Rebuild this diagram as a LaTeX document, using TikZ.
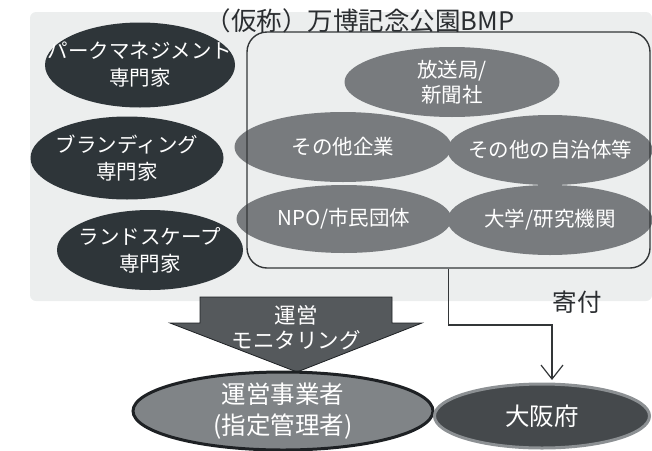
\documentclass[tikz,border=0pt]{standalone}
\usepackage{fontspec}
\setmainfont{Noto Sans CJK JP}
\usetikzlibrary{shapes.geometric,arrows.meta}
\definecolor{panelc}{HTML}{ECEEEE}
\definecolor{darkc}{HTML}{2E3539}
\definecolor{grayc}{HTML}{787B7E}
\definecolor{linec}{HTML}{333638}
\definecolor{arrowc}{HTML}{55595C}
\definecolor{opfill}{HTML}{808487}
\definecolor{opline}{HTML}{1E2124}
\definecolor{osfill}{HTML}{45494C}
\definecolor{osline}{HTML}{8C9093}
\definecolor{txtc}{HTML}{2A2D30}
\begin{document}
\begin{tikzpicture}[x=1pt,y=-1pt,
  ell/.style={ellipse, inner sep=0pt},
  wtxt/.style={text=white, align=center, inner sep=0pt, font=\fontsize{20.5}{27}\selectfont},
  gtxt/.style={text=white, align=center, inner sep=0pt, font=\fontsize{20.5}{25}\selectfont},
  btxt/.style={text=white, align=center, inner sep=0pt, font=\fontsize{24.5}{31}\selectfont}]
\useasboundingbox (0,0) rectangle (652,450);
% background panel
\fill[panelc, rounded corners=6pt] (30,12) -- (30,301) -- (652,301) -- (652,12) -- cycle;
% dark expert ellipses
\node[ell, fill=darkc, minimum width=190pt, minimum height=85pt] (pm) at (140,65) {};
\node[wtxt] (pmt) at (pm) {パークマネジメント\\専門家};
\node[ell, fill=darkc, minimum width=193pt, minimum height=83pt] (br) at (127,158) {};
\node[wtxt] (brt) at (br) {ブランディング\\専門家};
\node[ell, fill=darkc, minimum width=186pt, minimum height=80pt] (ls) at (150,250) {};
\node[wtxt] (lst) at (ls) {ランドスケープ\\専門家};
% gray member ellipses
\node[ell, fill=grayc, minimum width=215pt, minimum height=70pt] (hs) at (452,82) {};
\node[gtxt] (hst) at (hs) {放送局/\\新聞社};
\node[ell, fill=grayc, minimum width=217pt, minimum height=70pt] (ki) at (343,147) {};
\node[gtxt] (kit) at (ki) {その他企業};
\node[ell, fill=grayc, minimum width=205pt, minimum height=70pt] (jt) at (550,150) {};
\node[gtxt] (jtt) at (jt) {その他の自治体等};
\node[ell, fill=grayc, minimum width=215pt, minimum height=68pt] (npo) at (344,219) {};
\node[gtxt] (npot) at (npo) {NPO/市民団体};
\node[ell, fill=grayc, minimum width=205pt, minimum height=70pt] (dg) at (550,220) {};
\node[gtxt] (dgt) at (dg) {大学/研究機関};
% BMP frame
\node[draw=linec, line width=1.4pt, rounded corners=20pt, minimum width=403pt, minimum height=236pt, inner sep=0pt] (bmp) at (448.5,150) {};
\node[text=txtc, inner sep=0pt, font=\fontsize{25.5}{26}\selectfont] (title) at (360,21) {（仮称）万博記念公園BMP};
% block arrow
\fill[arrowc, draw=opline, line width=0.8pt] (200,297) -- (392,297) -- (392,323) -- (422,323) -- (297,372) -- (170,323) -- (200,323) -- cycle;
\node[text=white, align=center, inner sep=0pt, font=\fontsize{21.5}{25}\selectfont] (mon) at (296,328) {運営\\モニタリング};
% bottom ellipses
\node[ell, fill=opfill, draw=opline, line width=3pt, minimum width=300pt, minimum height=78pt] (op) at (283,411) {};
\node[btxt] (opt) at (op) {運営事業者\\(指定管理者)};
\node[ell, fill=osfill, draw=osline, line width=3pt, minimum width=215pt, minimum height=64pt] (os) at (542,416) {};
\node[btxt] (ost) at (os) {大阪府};
% donation connector
\coordinate (k1) at (448.5,325);
\coordinate (k2) at (552,325);
\coordinate (k3) at (552,380);
\draw[linec, line width=1.2pt, -{Straight Barb[length=14pt,width=22pt]}] (bmp.south) -- (k1) -- (k2) -- (k3);
\node[text=txtc, inner sep=0pt, font=\fontsize{24.5}{25}\selectfont] (kifu) at (577,302) {寄付};
\end{tikzpicture}
\end{document}
